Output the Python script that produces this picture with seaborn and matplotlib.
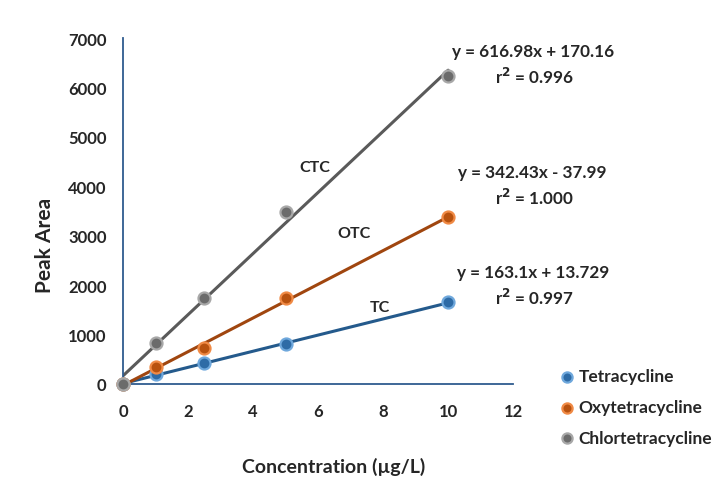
import numpy as np
import pandas as pd
import matplotlib
matplotlib.use("Agg")
import matplotlib.pyplot as plt
import seaborn as sns

# concentrations (ug/L) and peak areas
conc = [0, 1, 2.5, 5, 10]
tc_area = [0, 201, 416, 805, 1651]
otc_area = [0, 336, 725, 1732, 3376]
ctc_area = [0, 825, 1745, 3476, 6228]

names = ["Tetracycline", "Oxytetracycline", "Chlortetracycline"]
short = ["TC", "OTC", "CTC"]
equations = ["y = 163.1x + 13.729", "y = 342.43x - 37.99", "y = 616.98x + 170.16"]
r2_text = ["r$^2$ = 0.997", "r$^2$ = 1.000", "r$^2$ = 0.996"]

line_colors = ["#245A8C", "#A0460F", "#5A5A5A"]
face_colors = ["#2E6BA6", "#B8520F", "#6B6B6B"]
edge_colors = ["#6FA8DC", "#F08A45", "#A8A8A8"]

df = pd.DataFrame({
    "conc": conc * 3,
    "area": tc_area + otc_area + ctc_area,
    "drug": [n for n in names for _ in conc],
})

sns.set_style("white")
plt.rcParams["font.family"] = ["Lato", "DejaVu Sans"]
plt.rcParams["font.weight"] = "bold"

fig = plt.figure(figsize=(7.2, 4.81), dpi=100)
ax = fig.add_axes([0.171, 0.1996, 0.5417, 0.7193])

# fitted calibration lines
for i, name in enumerate(names):
    sub = df[df["drug"] == name]
    sns.regplot(data=sub, x="conc", y="area", ax=ax, ci=None, scatter=False,
                truncate=True, line_kws={"color": line_colors[i], "lw": 2.2, "zorder": 2})
# measured points
for i, name in enumerate(names):
    sub = df[df["drug"] == name]
    sns.scatterplot(data=sub, x="conc", y="area", ax=ax, color=face_colors[i],
                    edgecolor=edge_colors[i], linewidth=1.6, s=75, zorder=3,
                    label=name, clip_on=False)

# series labels and fit equations
label_pos = [(7.9, 1550), (7.1, 3050), (5.9, 4400)]
eq_pos = [(12.6, 2260), (12.6, 4290), (12.6, 6730)]
for i in range(3):
    ax.text(*label_pos[i], short[i], fontsize=11.5, fontweight="bold", ha="center", va="center")
    ax.text(eq_pos[i][0], eq_pos[i][1], equations[i], fontsize=12.3, fontweight="bold",
            ha="center", va="center", clip_on=False)
    ax.text(eq_pos[i][0] + 0.05, eq_pos[i][1] - 500, r2_text[i], fontsize=12.3,
            fontweight="bold", ha="center", va="center", clip_on=False)

ax.set_xlim(0, 12)
ax.set_ylim(0, 7000)
ax.set_xticks(range(0, 13, 2))
ax.set_yticks(range(0, 7001, 1000))
ax.set_xlabel("Concentration (µg/L)", fontsize=14, fontweight="bold", va="center")
ax.set_ylabel("Peak Area", fontsize=15, fontweight="bold", va="center")
ax.xaxis.set_label_coords(0.541, -0.237)
ax.yaxis.set_label_coords(-0.2, 0.404)

spine_color = "#2F5C8F"
sns.despine(ax=ax)
for s in ["left", "bottom"]:
    ax.spines[s].set_color(spine_color)
    ax.spines[s].set_linewidth(1.3)
ax.tick_params(axis="both", direction="out", length=5, width=1.3, color=spine_color,
               labelsize=12)
ax.tick_params(axis="x", pad=9)
ax.tick_params(axis="y", pad=7)
for lab in ax.get_xticklabels() + ax.get_yticklabels():
    lab.set_fontweight("bold")

handles, labels = ax.get_legend_handles_labels()
ax.legend(handles, labels, loc="upper left", bbox_to_anchor=(1.075, 0.09), frameon=False,
          handlelength=1.0, handletextpad=0.2, labelspacing=0.85, markerscale=0.85,
          prop={"size": 12.5, "weight": "bold"})

fig.savefig("out.png", dpi=100)
